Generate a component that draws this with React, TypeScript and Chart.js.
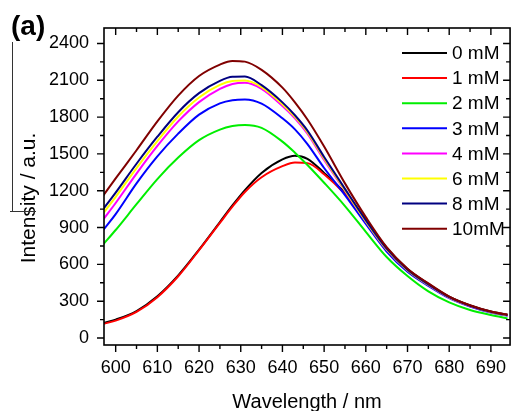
import React, { useEffect, useRef } from "react";
import { Chart, registerables } from "chart.js";

Chart.register(...registerables);

const wavelengths = [597, 600, 605, 610, 615, 620, 625, 628, 631, 635, 640, 643, 646, 650, 655, 660, 665, 670, 675, 680, 685, 690, 694];

const mM0 = [122, 150, 220, 340, 510, 720, 945, 1080, 1205, 1345, 1455, 1485, 1460, 1345, 1180, 965, 735, 562, 442, 337, 266, 216, 190];
const mM1 = [115, 142, 213, 333, 503, 716, 938, 1070, 1190, 1310, 1400, 1430, 1425, 1335, 1172, 958, 730, 558, 440, 335, 264, 214, 188];
const mM2 = [763, 880, 1090, 1295, 1470, 1612, 1698, 1727, 1736, 1712, 1600, 1510, 1410, 1265, 1075, 865, 660, 505, 380, 290, 228, 187, 160];
const mM3 = [880, 1010, 1260, 1480, 1665, 1820, 1912, 1938, 1944, 1910, 1790, 1700, 1580, 1385, 1165, 930, 705, 540, 425, 325, 257, 208, 182];
const mM4 = [965, 1100, 1340, 1565, 1765, 1922, 2030, 2070, 2080, 2030, 1890, 1790, 1665, 1450, 1200, 950, 720, 552, 433, 330, 261, 211, 185];
const mM6 = [1015, 1150, 1385, 1605, 1805, 1960, 2062, 2094, 2098, 2045, 1905, 1802, 1678, 1462, 1205, 952, 722, 553, 434, 331, 262, 212, 185];
const mM8 = [1050, 1185, 1420, 1640, 1840, 1995, 2095, 2128, 2130, 2060, 1920, 1815, 1690, 1475, 1215, 960, 728, 557, 437, 333, 263, 213, 186];
const mM10 = [1160, 1300, 1530, 1765, 1975, 2135, 2228, 2258, 2252, 2185, 2040, 1920, 1780, 1560, 1260, 985, 740, 565, 445, 338, 267, 216, 189];

const seriesLabels = ["0 mM", "1 mM", "2 mM", "3 mM", "4 mM", "6 mM", "8 mM", "10mM"];
const seriesValues = [mM0, mM1, mM2, mM3, mM4, mM6, mM8, mM10];
const seriesColors = ["#000000", "#ff0000", "#00ee00", "#0000ff", "#ff00ff", "#ffff00", "#000080", "#800000"];

const yTickValues = [0, 300, 600, 900, 1200, 1500, 1800, 2100, 2400];
const xTickValues = [600, 610, 620, 630, 640, 650, 660, 670, 680, 690];
const yMinorValues = [150, 450, 750, 1050, 1350, 1650, 1950, 2250];
const xMinorValues = [605, 615, 625, 635, 645, 655, 665, 675, 685];

const FONT = "'Liberation Sans', Arial, Helvetica, sans-serif";

const framePlugin = {
  id: "frame",
  afterDatasetsDraw(chart: any) {
    const ctx = chart.ctx;
    const { left, right, top, bottom } = chart.chartArea;
    const xs = chart.scales.x;
    const ys = chart.scales.y;
    ctx.save();
    ctx.strokeStyle = "#000";
    ctx.lineWidth = 1.6;
    ctx.strokeRect(left, top, right - left, bottom - top);
    ctx.lineWidth = 1.4;
    ctx.beginPath();
    const major = 7;
    const minor = 4;
    xTickValues.forEach((v) => {
      const p = xs.getPixelForValue(v);
      ctx.moveTo(p, bottom);
      ctx.lineTo(p, bottom + major);
      ctx.moveTo(p, top);
      ctx.lineTo(p, top + major);
    });
    xMinorValues.forEach((v) => {
      const p = xs.getPixelForValue(v);
      ctx.moveTo(p, bottom);
      ctx.lineTo(p, bottom + minor);
      ctx.moveTo(p, top);
      ctx.lineTo(p, top + minor);
    });
    yTickValues.forEach((v) => {
      const p = ys.getPixelForValue(v);
      ctx.moveTo(left, p);
      ctx.lineTo(left - major, p);
      ctx.moveTo(right, p);
      ctx.lineTo(right - major, p);
    });
    yMinorValues.forEach((v) => {
      const p = ys.getPixelForValue(v);
      if (p < top) return;
      ctx.moveTo(left, p);
      ctx.lineTo(left - minor, p);
      ctx.moveTo(right, p);
      ctx.lineTo(right - minor, p);
    });
    ctx.stroke();

    // legend
    ctx.font = `19px ${FONT}`;
    ctx.textBaseline = "middle";
    ctx.textAlign = "left";
    chart.data.datasets.forEach((ds: any, i: number) => {
      const y = 53 + i * 25.1;
      ctx.strokeStyle = ds.borderColor;
      ctx.lineWidth = 2;
      ctx.beginPath();
      ctx.moveTo(402, y);
      ctx.lineTo(447, y);
      ctx.stroke();
      ctx.fillStyle = "#000";
      ctx.fillText(ds.label, 452, y + 1);
    });

    // titles
    ctx.fillStyle = "#000";
    ctx.font = `20px ${FONT}`;
    ctx.textAlign = "center";
    ctx.textBaseline = "middle";
    ctx.fillText("Wavelength / nm", (left + right) / 2, 402);
    ctx.save();
    ctx.font = `21px ${FONT}`;
    ctx.translate(29, 198);
    ctx.rotate(-Math.PI / 2);
    ctx.fillText("Intensity / a.u.", 0, 0);
    ctx.restore();

    ctx.font = `bold 28px ${FONT}`;
    ctx.textAlign = "left";
    ctx.textBaseline = "alphabetic";
    ctx.fillText("(a)", 11, 35);

    ctx.strokeStyle = "#333";
    ctx.lineWidth = 1;
    ctx.beginPath();
    ctx.moveTo(12.5, 42);
    ctx.lineTo(12.5, 212);
    ctx.moveTo(10, 211.5);
    ctx.lineTo(36, 211.5);
    ctx.stroke();
    ctx.restore();
  },
};

export default function App() {
  const ref = useRef<HTMLCanvasElement | null>(null);
  useEffect(() => {
    if (!ref.current) return;
    Chart.defaults.font.family = FONT;
    const n = seriesValues.length;
    const chart = new Chart(ref.current, {
      type: "line",
      data: {
        datasets: seriesValues.map((vals, i) => ({
          label: seriesLabels[i],
          data: vals.map((v, j) => ({ x: wavelengths[j], y: v })),
          borderColor: seriesColors[i],
          backgroundColor: seriesColors[i],
          borderWidth: 2,
          pointRadius: 0,
          cubicInterpolationMode: "monotone" as const,
          fill: false,
          order: n - i,
        })),
      },
      options: {
        responsive: false,
        animation: false,
        devicePixelRatio: 1,
        layout: { padding: { left: 0, right: 2, top: 28, bottom: 0 } },
        plugins: { legend: { display: false }, tooltip: { enabled: false }, title: { display: false } },
        scales: {
          x: {
            type: "linear",
            min: 597.2,
            max: 694.6,
            grid: { display: false, drawTicks: false },
            border: { display: false },
            ticks: {
              color: "#000",
              font: { size: 18, family: FONT },
              padding: 12,
              maxRotation: 0,
              autoSkip: false,
              callback: (v: any) => String(v),
            },
            afterBuildTicks: (s: any) => {
              s.ticks = xTickValues.map((v) => ({ value: v }));
            },
            afterFit: (s: any) => {
              s.height = 66;
            },
          },
          y: {
            type: "linear",
            min: -57,
            max: 2526,
            grid: { display: false, drawTicks: false },
            border: { display: false },
            ticks: {
              color: "#000",
              font: { size: 18, family: FONT },
              padding: 15,
              autoSkip: false,
              callback: (v: any) => String(v),
            },
            afterBuildTicks: (s: any) => {
              s.ticks = yTickValues.map((v) => ({ value: v }));
            },
            afterFit: (s: any) => {
              s.width = 104;
            },
          },
        },
      },
      plugins: [framePlugin],
    });
    return () => chart.destroy();
  }, []);
  return (
    <div style={{ position: "absolute", left: 0, top: 0, width: 518, height: 411, background: "#fff" }}>
      <canvas ref={ref} width={518} height={411} style={{ display: "block" }} />
    </div>
  );
}
